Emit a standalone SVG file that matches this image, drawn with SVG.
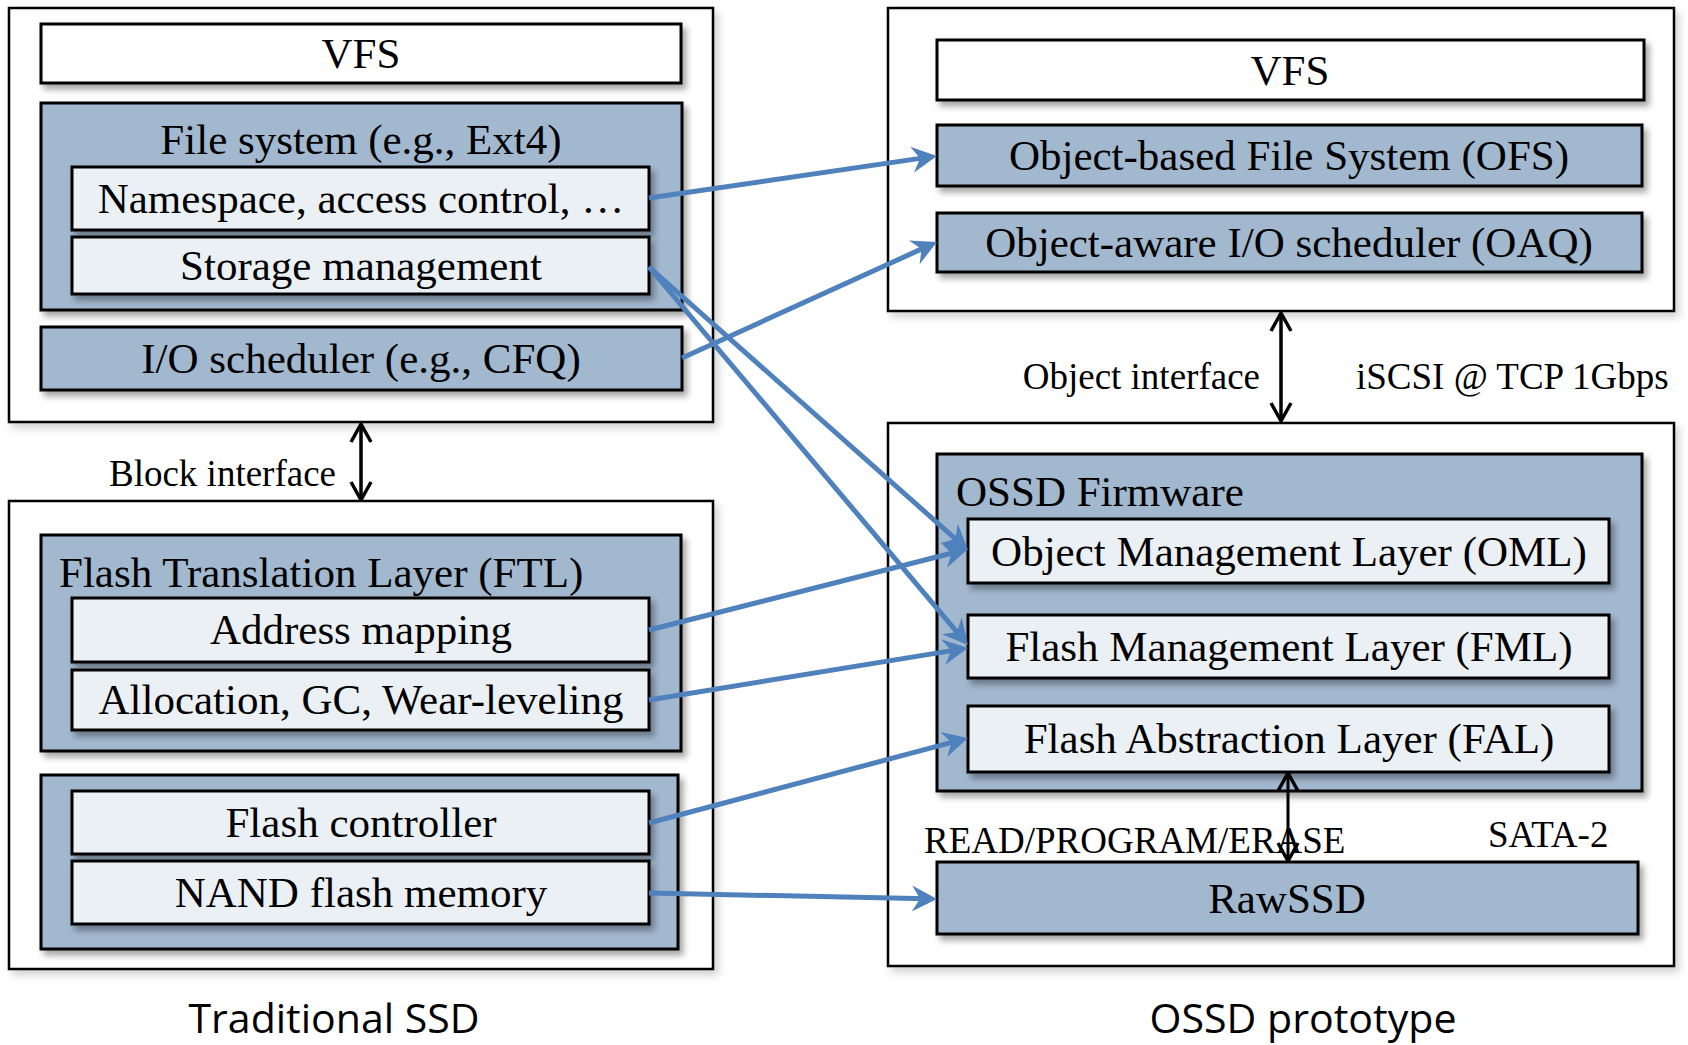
<svg xmlns="http://www.w3.org/2000/svg" width="1688" height="1045" viewBox="0 0 1688 1045">
<defs>
<filter id="sh" x="-5%" y="-5%" width="112%" height="125%">
<feDropShadow dx="4" dy="5" stdDeviation="3" flood-color="#000" flood-opacity="0.35"/>
</filter>
<filter id="sh2" x="-5%" y="-5%" width="112%" height="112%">
<feDropShadow dx="4" dy="5" stdDeviation="4" flood-color="#000" flood-opacity="0.18"/>
</filter>
<marker id="ab" viewBox="-16 -14 28 28" refX="0" refY="0" markerWidth="28" markerHeight="28" orient="auto" markerUnits="userSpaceOnUse">
<path d="M10,0 L-15,-13 L-7,0 L-15,13 Z" fill="#4f81bd"/>
</marker>
<marker id="ak" viewBox="-22 -13 26 26" refX="0" refY="0" markerWidth="26" markerHeight="26" orient="auto-start-reverse" markerUnits="userSpaceOnUse">
<path d="M-18,-10 L0,0 L-18,10" fill="none" stroke="#000" stroke-width="3.5" stroke-linejoin="round"/>
</marker>
</defs>
<style>
.outer{fill:#fff;stroke:#000;stroke-width:2.5}
.blue{fill:#a2b8cf;stroke:#000;stroke-width:3}
.light{fill:#ebf0f5;stroke:#000;stroke-width:3}
.white{fill:#fff;stroke:#000;stroke-width:3}
.t{font-family:"Liberation Serif","Times New Roman",serif;font-size:43px;fill:#000}
.s{font-family:"Liberation Serif","Times New Roman",serif;font-size:37px;fill:#000}
.cap{font-family:"Open Sans","Noto Sans",sans-serif;font-size:40px;fill:#000}
.c{text-anchor:middle}
.bl{fill:none;stroke:#4f81bd;stroke-width:5}
.bk{fill:none;stroke:#000;stroke-width:3.5}
</style>

<g id="trad-host">
<rect class="outer" x="9" y="8" width="704" height="414" filter="url(#sh2)"/>
</g>
<g id="trad-vfs">
<rect class="white" x="41" y="24" width="640" height="59" filter="url(#sh)"/>
<text class="t c" x="361" y="68">VFS</text>
</g>
<g id="trad-fs">
<rect class="blue" x="41" y="103" width="641" height="207" filter="url(#sh)"/>
<text class="t c" x="361" y="154">File system (e.g., Ext4)</text>
</g>
<g id="trad-namespace">
<rect class="light" x="72" y="167" width="577" height="63" filter="url(#sh)"/>
<text class="t c" x="361" y="213">Namespace, access control, …</text>
</g>
<g id="trad-storage">
<rect class="light" x="72" y="237" width="577" height="57" filter="url(#sh)"/>
<text class="t c" x="361" y="280">Storage management</text>
</g>
<g id="trad-iosched">
<rect class="blue" x="41" y="327" width="641" height="63" filter="url(#sh)"/>
<text class="t c" x="361" y="373">I/O scheduler (e.g., CFQ)</text>
</g>

<g id="trad-ssd">
<rect class="outer" x="9" y="501" width="704" height="468" filter="url(#sh2)"/>
</g>
<g id="trad-ftl">
<rect class="blue" x="41" y="535" width="640" height="216" filter="url(#sh)"/>
<text class="t" x="59" y="587">Flash Translation Layer (FTL)</text>
</g>
<g id="trad-addr">
<rect class="light" x="72" y="598" width="577" height="64" filter="url(#sh)"/>
<text class="t c" x="361" y="644">Address mapping</text>
</g>
<g id="trad-alloc">
<rect class="light" x="72" y="670" width="577" height="60" filter="url(#sh)"/>
<text class="t c" x="361" y="714">Allocation, GC, Wear-leveling</text>
</g>
<g id="trad-hw">
<rect class="blue" x="41" y="775" width="637" height="174" filter="url(#sh)"/>
</g>
<g id="trad-fc">
<rect class="light" x="72" y="791" width="577" height="63" filter="url(#sh)"/>
<text class="t c" x="361" y="837">Flash controller</text>
</g>
<g id="trad-nand">
<rect class="light" x="72" y="861" width="577" height="63" filter="url(#sh)"/>
<text class="t c" x="361" y="907">NAND flash memory</text>
</g>
<text class="cap c" x="334" y="1033" textLength="291" lengthAdjust="spacingAndGlyphs">Traditional SSD</text>

<g id="ossd-host">
<rect class="outer" x="888" y="8" width="786" height="303" filter="url(#sh2)"/>
</g>
<g id="ossd-vfs">
<rect class="white" x="937" y="40" width="707" height="60" filter="url(#sh)"/>
<text class="t c" x="1290" y="85">VFS</text>
</g>
<g id="ossd-ofs">
<rect class="blue" x="937" y="125" width="705" height="61" filter="url(#sh)"/>
<text class="t c" x="1289" y="170">Object-based File System (OFS)</text>
</g>
<g id="ossd-oaq">
<rect class="blue" x="937" y="213" width="705" height="59" filter="url(#sh)"/>
<text class="t c" x="1289" y="257">Object-aware I/O scheduler (OAQ)</text>
</g>

<g id="ossd-dev">
<rect class="outer" x="888" y="423" width="786" height="543" filter="url(#sh2)"/>
</g>
<g id="ossd-fw">
<rect class="blue" x="937" y="454" width="705" height="337" filter="url(#sh)"/>
<text class="t" x="956" y="506">OSSD Firmware</text>
</g>
<g id="ossd-oml">
<rect class="light" x="968" y="519" width="641" height="64" filter="url(#sh)"/>
<text class="t c" x="1289" y="566">Object Management Layer (OML)</text>
</g>
<g id="ossd-fml">
<rect class="light" x="968" y="615" width="641" height="63" filter="url(#sh)"/>
<text class="t c" x="1289" y="661">Flash Management Layer (FML)</text>
</g>
<g id="ossd-fal">
<rect class="light" x="968" y="706" width="641" height="66" filter="url(#sh)"/>
<text class="t c" x="1289" y="753">Flash Abstraction Layer (FAL)</text>
</g>
<g id="ossd-raw">
<rect class="blue" x="937" y="862" width="701" height="72" filter="url(#sh)"/>
<text class="t c" x="1287" y="913">RawSSD</text>
</g>
<text class="cap c" x="1303" y="1033" textLength="307" lengthAdjust="spacingAndGlyphs">OSSD prototype</text>

<g id="labels">
<text class="s" x="336" y="486" text-anchor="end">Block interface</text>
<text class="s" x="1260" y="389" text-anchor="end">Object interface</text>
<text class="s" x="1356" y="389">iSCSI @ TCP 1Gbps</text>
<text class="s" x="924" y="853">READ/PROGRAM/ERASE</text>
<text class="s" x="1488" y="847">SATA-2</text>
</g>

<g id="connectors">
<path class="bl" d="M649,198 L927,157.4" marker-end="url(#ab)"/>
<path class="bl" d="M649,267 L960.5,543.4" marker-end="url(#ab)"/>
<path class="bl" d="M649,267 L961.5,637.4" marker-end="url(#ab)"/>
<path class="bl" d="M682,358 L927.9,246.1" marker-end="url(#ab)"/>
<path class="bl" d="M649,630 L958.3,551.5" marker-end="url(#ab)"/>
<path class="bl" d="M649,700 L958.1,649.6" marker-end="url(#ab)"/>
<path class="bl" d="M649,823 L958.3,740.6" marker-end="url(#ab)"/>
<path class="bl" d="M649,893 L927,898.8" marker-end="url(#ab)"/>
<path class="bk" d="M361,424 L361,500" marker-start="url(#ak)" marker-end="url(#ak)"/>
<path class="bk" d="M1281,313 L1281,421" marker-start="url(#ak)" marker-end="url(#ak)"/>
<path class="bk" d="M1288,773 L1288,861" marker-start="url(#ak)" marker-end="url(#ak)" style="stroke-width:3"/>
</g>
</svg>
